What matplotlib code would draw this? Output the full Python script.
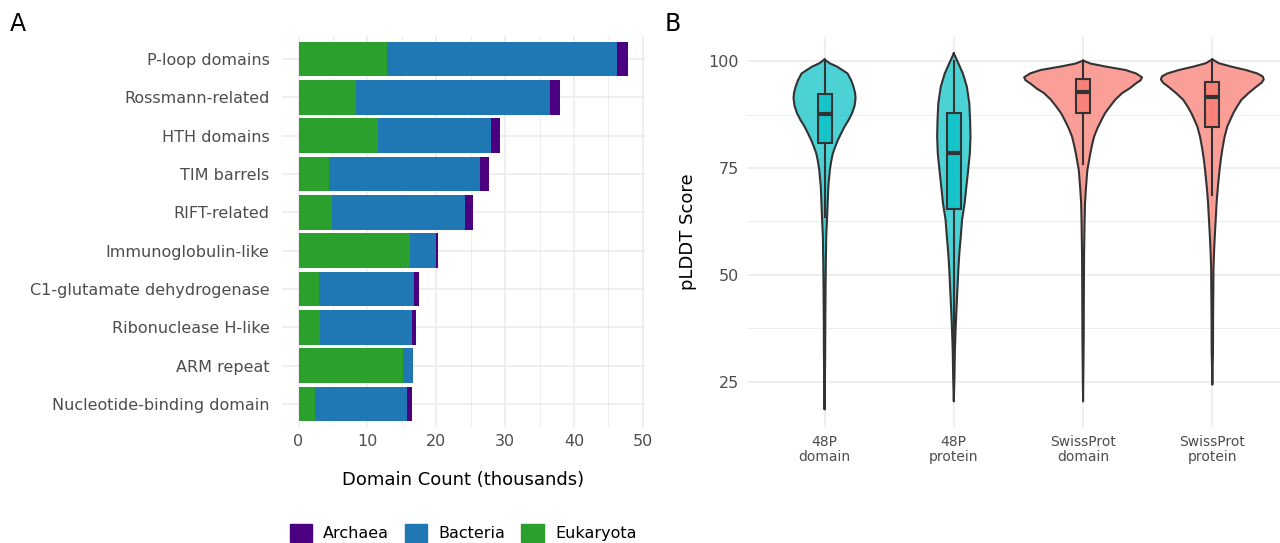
import matplotlib.pyplot as plt
from matplotlib.patches import Patch
import numpy as np

# Domain counts per superfamily (thousands), split by kingdom
families = [
    "P-loop domains",
    "Rossmann-related",
    "HTH domains",
    "TIM barrels",
    "RIFT-related",
    "Immunoglobulin-like",
    "C1-glutamate dehydrogenase",
    "Ribonuclease H-like",
    "ARM repeat",
    "Nucleotide-binding domain",
]
eukaryota = [12.8, 8.3, 11.5, 4.4, 4.8, 16.2, 2.9, 3.1, 15.1, 2.4]
bacteria = [33.4, 28.2, 16.4, 21.9, 19.3, 3.7, 13.8, 13.4, 1.5, 13.3]
archaea = [1.7, 1.5, 1.4, 1.4, 1.2, 0.3, 0.8, 0.6, 0.05, 0.8]

# pLDDT violins: score levels and half-widths (x units)
groups = ["48P\ndomain", "48P\nprotein", "SwissProt\ndomain", "SwissProt\nprotein"]
group_colors = ["#00BFC4", "#00BFC4", "#F8766D", "#F8766D"]

v1_score = [100.4, 99.5, 98.7, 97.1, 95.5, 94.0, 92.6, 91.3, 89.5, 87.8, 86.2,
            84.7, 83.0, 81.5, 80.0, 78.4, 76.5, 74.5, 70.6, 67.5, 64.4, 59.0,
            53.0, 47.3, 40.0, 31.8, 18.5]
v1_half = [0.000, 0.039, 0.097, 0.178, 0.206, 0.224, 0.236, 0.240, 0.232, 0.213,
           0.186, 0.155, 0.127, 0.103, 0.083, 0.064, 0.051, 0.041, 0.029, 0.025,
           0.021, 0.013, 0.010, 0.008, 0.006, 0.005, 0.000]

v2_score = [101.8, 99.5, 97.1, 94.0, 90.1, 86.2, 82.3, 78.4, 74.5, 70.6, 66.8,
            62.9, 59.0, 55.1, 51.2, 47.3, 43.5, 39.5, 35.6, 31.8, 26.0, 20.4]
v2_half = [0.000, 0.035, 0.070, 0.101, 0.120, 0.126, 0.129, 0.124, 0.111, 0.097,
           0.084, 0.064, 0.054, 0.043, 0.035, 0.029, 0.023, 0.017, 0.012, 0.008,
           0.005, 0.000]

v3_score = [100.1, 99.4, 98.7, 97.9, 97.1, 96.2, 95.5, 94.8, 93.6, 92.5, 91.0,
            89.3, 87.8, 86.2, 84.2, 82.3, 80.3, 78.4, 76.5, 74.5, 70.6, 66.8,
            62.9, 55.1, 45.0, 35.0, 20.4]
v3_half = [0.000, 0.060, 0.178, 0.330, 0.410, 0.456, 0.445, 0.410, 0.360, 0.302,
           0.250, 0.206, 0.170, 0.142, 0.110, 0.085, 0.069, 0.056, 0.045, 0.033,
           0.023, 0.015, 0.012, 0.008, 0.006, 0.005, 0.000]

v4_score = [100.4, 99.5, 98.7, 97.9, 97.1, 96.4, 95.7, 94.9, 94.0, 92.5, 90.9,
            89.3, 87.8, 86.2, 84.7, 82.3, 80.0, 77.3, 74.5, 70.6, 66.8, 62.9,
            59.0, 55.1, 51.2, 47.3, 40.0, 32.0, 24.3]
v4_half = [0.000, 0.050, 0.147, 0.260, 0.348, 0.390, 0.398, 0.380, 0.340, 0.280,
           0.224, 0.190, 0.162, 0.138, 0.116, 0.095, 0.081, 0.067, 0.056, 0.043,
           0.033, 0.026, 0.019, 0.013, 0.009, 0.008, 0.006, 0.005, 0.000]

violin_scores = [v1_score, v2_score, v3_score, v4_score]
violin_halves = [v1_half, v2_half, v3_half, v4_half]

# Box summaries: lower whisker, Q1, median, Q3, upper whisker
box_low = [63.6, 31.8, 76.0, 68.6]
box_q1 = [80.9, 65.4, 87.8, 84.5]
box_med = [87.6, 78.4, 92.8, 91.5]
box_q3 = [92.4, 87.8, 95.7, 95.1]
box_high = [100.0, 100.0, 100.0, 100.0]

W, H = 1280, 543
fig = plt.figure(figsize=(12.8, 5.43), dpi=100)
fig.patch.set_facecolor("white")

grid_col = "#EBEBEB"
tick_col = "#4D4D4D"
line_col = "#333333"

# ---- Panel A: stacked horizontal bars ----
ax1 = fig.add_axes([282 / W, 1 - 427 / H, (645 - 282) / W, (427 - 36) / H])
y = np.arange(len(families))[::-1]
euk = np.array(eukaryota)
bac = np.array(bacteria)
arc = np.array(archaea)
ax1.barh(y, euk, height=0.9, color="#2CA02C", zorder=2)
ax1.barh(y, bac, left=euk, height=0.9, color="#1F77B4", zorder=2)
ax1.barh(y, arc, left=euk + bac, height=0.9, color="#4B0082", zorder=2)
ax1.set_yticks(y)
ax1.set_yticklabels(families)
ax1.set_xlim(-2.4, 50.3)
ax1.set_ylim(-0.6, len(families) - 0.4)
ax1.set_xticks(np.arange(0, 51, 10))
ax1.set_xticks(np.arange(5, 50, 10), minor=True)
ax1.grid(which="major", color=grid_col, linewidth=1.1, zorder=0)
ax1.grid(which="minor", axis="x", color=grid_col, linewidth=0.6, zorder=0)
ax1.tick_params(axis="both", which="both", length=0, labelsize=11.5,
                labelcolor=tick_col)
ax1.tick_params(axis="y", pad=9)
ax1.tick_params(axis="x", pad=5)
ax1.set_xlabel("Domain Count (thousands)", fontsize=13, labelpad=16)
for s in ax1.spines.values():
    s.set_visible(False)

fig.legend(
    handles=[Patch(color="#4B0082", label="Archaea"),
             Patch(color="#1F77B4", label="Bacteria"),
             Patch(color="#2CA02C", label="Eukaryota")],
    loc="center", bbox_to_anchor=(463 / W, 1 - 533 / H), ncol=3,
    frameon=False, fontsize=11.5, handlelength=1.4, handleheight=1.4,
    handletextpad=0.7, columnspacing=1.0,
)

# ---- Panel B: violins with boxes ----
ax2 = fig.add_axes([747 / W, 1 - 427 / H, (1280 - 747) / W, (427 - 36.7) / H])
pos = np.arange(1, len(groups) + 1)
for i, p in enumerate(pos):
    sc = np.array(violin_scores[i])
    hw = np.array(violin_halves[i])
    ax2.fill_betweenx(sc, p - hw, p + hw, facecolor=group_colors[i], alpha=0.7,
                      edgecolor="none", zorder=2)
    ax2.plot(np.concatenate([p - hw, (p + hw)[::-1]]),
             np.concatenate([sc, sc[::-1]]),
             color=line_col, linewidth=1.5, zorder=3)

stats = [
    {"whislo": box_low[i], "q1": box_q1[i], "med": box_med[i],
     "q3": box_q3[i], "whishi": box_high[i]}
    for i in range(len(groups))
]
bp = ax2.bxp(stats, positions=pos, widths=0.108, showfliers=False,
             showcaps=False, patch_artist=True,
             boxprops=dict(edgecolor=line_col, linewidth=1.5),
             whiskerprops=dict(color=line_col, linewidth=1.5),
             medianprops=dict(color=line_col, linewidth=3.0),
             zorder=4)
for patch, c in zip(bp["boxes"], group_colors):
    patch.set_facecolor(c)
    patch.set_alpha(None)
    r, g, b = plt.matplotlib.colors.to_rgb(c)
    patch.set_facecolor((r, g, b, 0.7))

ax2.set_xlim(0.4, 4 + (1280 - 1212.3) / 129.3)
ax2.set_ylim(14.4, 105.7)
ax2.set_xticks(pos)
ax2.set_xticklabels(groups, fontsize=10, color=tick_col, linespacing=1.05)
ax2.set_yticks([25, 50, 75, 100])
ax2.set_yticks([37.5, 62.5, 87.5], minor=True)
ax2.grid(which="major", color=grid_col, linewidth=1.1, zorder=0)
ax2.grid(which="minor", axis="y", color=grid_col, linewidth=0.6, zorder=0)
ax2.tick_params(axis="both", which="both", length=0, labelcolor=tick_col)
ax2.tick_params(axis="y", labelsize=11.5, pad=6)
ax2.tick_params(axis="x", pad=6)
ax2.set_ylabel("pLDDT Score", fontsize=13, labelpad=8)
for s in ax2.spines.values():
    s.set_visible(False)

fig.text(18 / W, 1 - 24 / H, "A", fontsize=17, ha="center", va="center")
fig.text(673 / W, 1 - 24 / H, "B", fontsize=17, ha="center", va="center")

fig.savefig("out.png", dpi=100)
